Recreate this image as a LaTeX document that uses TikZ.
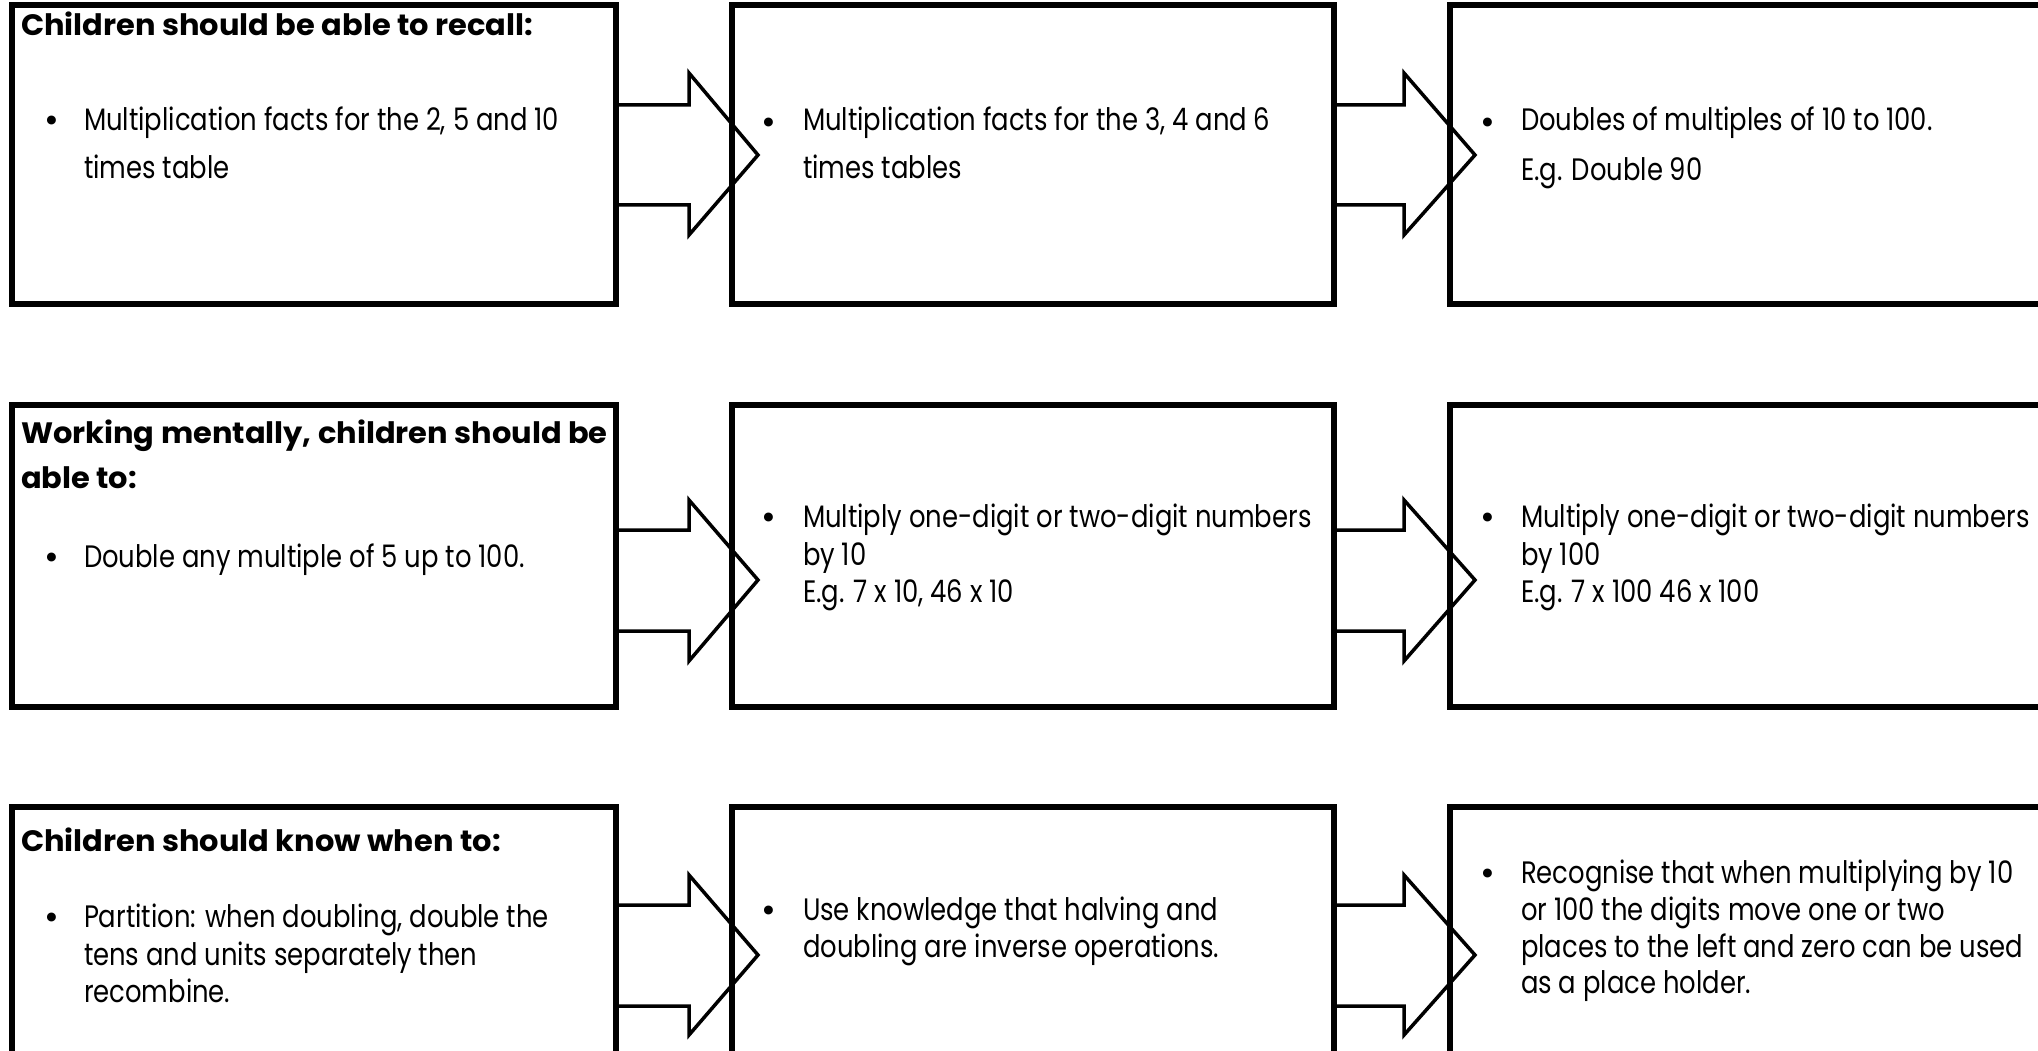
\documentclass[tikz,border=0pt]{standalone}
\usepackage{fontspec}
\setmainfont{Poppins}
\usepackage{graphicx}
\usetikzlibrary{calc}
\newlength\wreg
\newlength\wbold
\newlength\wtmp
\newcommand\regfont{\fontsize{31}{36}\selectfont}
\newcommand\boldfont{\fontsize{29.5}{36}\selectfont\bfseries}
\newcommand\regline[1]{\scalebox{\rreg}[1]{\regfont #1}}
\newcommand\boldline[1]{\scalebox{\rbold}[1]{\boldfont #1}}
\newcommand\bulletmark{\fontsize{36}{40}\selectfont\textbullet}
\AtBeginDocument{%
  \settowidth\wreg{\normalfont\regfont Multiplication facts for the 2, 5 and 10}%
  \settowidth\wtmp{\normalfont\regfont Multiply one-digit or two-digit numbers}%
  \addtolength\wreg{\wtmp}%
  \settowidth\wtmp{\normalfont\regfont places to the left and zero can be used}%
  \addtolength\wreg{\wtmp}%
  \settowidth\wbold{\normalfont\boldfont Children should be able to recall:}%
  \settowidth\wtmp{\normalfont\boldfont Working mentally, children should be}%
  \addtolength\wbold{\wtmp}%
  \pgfmathsetmacro\rreg{1486/\wreg}%
  \pgfmathsetmacro\rbold{1099/\wbold}%
}
\tikzset{
  boxn/.style={draw=black, line width=5.5pt, line join=miter, inner sep=0pt, outer sep=0pt},
  arr/.style={draw=black, line width=3.5pt, line join=miter},
  tl/.style={anchor=base west, inner sep=0pt, outer sep=0pt},
  bl/.style={anchor=base, inner sep=0pt, outer sep=0pt}
}
\begin{document}
\begin{tikzpicture}[x=1pt,y=-1pt]
\useasboundingbox (0,0) rectangle (2038,1051);
\fill[white] (0,0) rectangle (2038,1051);
\clip (0,0) rectangle (2038,1051);

% ---------- boxes ----------
\node[boxn, minimum width=604pt, minimum height=299pt] (b11) at (314,154.5) {};
\node[boxn, minimum width=602pt, minimum height=299pt] (b12) at (1033,154.5) {};
\node[boxn, minimum width=610pt, minimum height=299pt] (b13) at (1755,154.5) {};
\node[boxn, minimum width=604pt, minimum height=302pt] (b21) at (314,556) {};
\node[boxn, minimum width=602pt, minimum height=302pt] (b22) at (1033,556) {};
\node[boxn, minimum width=610pt, minimum height=302pt] (b23) at (1755,556) {};
\node[boxn, minimum width=604pt, minimum height=303pt] (b31) at (314,958.5) {};
\node[boxn, minimum width=602pt, minimum height=303pt] (b32) at (1033,958.5) {};
\node[boxn, minimum width=610pt, minimum height=303pt] (b33) at (1755,958.5) {};

% ---------- block arrows ----------
\draw[arr] (b11.east |- 0,105) -- (689,105) -- (689,73) -- (758,155) -- (689,235) -- (689,205) -- (b11.east |- 0,205);
\draw[arr] (b12.east |- 0,105) -- (1404,105) -- (1404,73) -- (1475,155) -- (1404,235) -- (1404,205) -- (b12.east |- 0,205);
\draw[arr] (b21.east |- 0,530) -- (689,530) -- (689,500) -- (758,580) -- (689,661) -- (689,631) -- (b21.east |- 0,631);
\draw[arr] (b22.east |- 0,530) -- (1404,530) -- (1404,500) -- (1475,580) -- (1404,661) -- (1404,631) -- (b22.east |- 0,631);
\draw[arr] (b31.east |- 0,905) -- (689,905) -- (689,875) -- (758,955) -- (689,1035) -- (689,1006) -- (b31.east |- 0,1006);
\draw[arr] (b32.east |- 0,905) -- (1404,905) -- (1404,875) -- (1475,955) -- (1404,1035) -- (1404,1006) -- (b32.east |- 0,1006);

% ---------- texts row 1 ----------
\node[tl] (t11h) at (21,36) {\boldline{Children should be able to recall:}};
\node[bl] (t11b) at (52,133) {\bulletmark};
\node[tl] (t11a) at (84,131) {\regline{Multiplication facts for the 2, 5 and 10}};
\node[tl] (t11c) at (84,179) {\regline{times table}};

\node[bl] (t12b) at (769,135) {\bulletmark};
\node[tl] (t12a) at (803,131) {\regline{Multiplication facts for the 3, 4 and 6}};
\node[tl] (t12c) at (803,179) {\regline{times tables}};

\node[bl] (t13b) at (1488,135) {\bulletmark};
\node[tl] (t13a) at (1521,131) {\regline{Doubles of multiples of 10 to 100.}};
\node[tl] (t13c) at (1521,181) {\regline{E.g. Double 90}};

% ---------- texts row 2 ----------
\node[tl] (t21h) at (21,443) {\boldline{Working mentally, children should be}};
\node[tl] (t21i) at (21,488) {\boldline{able to:}};
\node[bl] (t21b) at (52,569) {\bulletmark};
\node[tl] (t21a) at (84,567) {\regline{Double any multiple of 5 up to 100.}};

\node[bl] (t22b) at (769,529) {\bulletmark};
\node[tl] (t22a) at (803,527) {\regline{Multiply one-digit or two-digit numbers}};
\node[tl] (t22c) at (803,565) {\regline{by 10}};
\node[tl] (t22d) at (803,602) {\regline{E.g. 7 x 10, 46 x 10}};

\node[bl] (t23b) at (1488,529) {\bulletmark};
\node[tl] (t23a) at (1521,527) {\regline{Multiply one-digit or two-digit numbers}};
\node[tl] (t23c) at (1521,565) {\regline{by 100}};
\node[tl] (t23d) at (1521,602) {\regline{E.g. 7 x 100 46 x 100}};

% ---------- texts row 3 ----------
\node[tl] (t31h) at (21,851) {\boldline{Children should know when to:}};
\node[bl] (t31b) at (52,929) {\bulletmark};
\node[tl] (t31a) at (84,927) {\regline{Partition: when doubling, double the}};
\node[tl] (t31c) at (84,965) {\regline{tens and units separately then}};
\node[tl] (t31d) at (84,1002) {\regline{recombine.}};

\node[bl] (t32b) at (769,922) {\bulletmark};
\node[tl] (t32a) at (803,920) {\regline{Use knowledge that halving and}};
\node[tl] (t32c) at (803,957) {\regline{doubling are inverse operations.}};

\node[bl] (t33b) at (1488,885) {\bulletmark};
\node[tl] (t33a) at (1521,883) {\regline{Recognise that when multiplying by 10}};
\node[tl] (t33c) at (1521,920) {\regline{or 100 the digits move one or two}};
\node[tl] (t33d) at (1521,957) {\regline{places to the left and zero can be used}};
\node[tl] (t33e) at (1521,993) {\regline{as a place holder.}};
\end{tikzpicture}
\end{document}
